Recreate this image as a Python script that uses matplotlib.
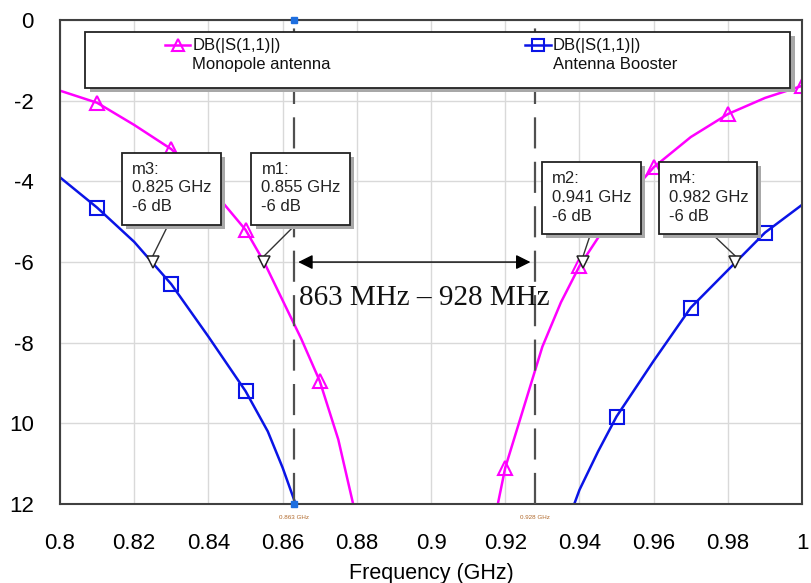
import matplotlib
matplotlib.use("Agg")
import matplotlib.pyplot as plt
from matplotlib.patches import Rectangle

plt.rcParams['font.family'] = ['Liberation Sans', 'DejaVu Sans']

# Monopole antenna, |S11| in dB (two visible branches)
mono_left_f = [0.800, 0.810, 0.820, 0.830, 0.840, 0.850, 0.855, 0.860, 0.865, 0.870, 0.875, 0.879]
mono_left_db = [-1.75, -2.05, -2.6, -3.2, -4.1, -5.2, -6.0, -6.95, -7.9, -8.95, -10.4, -12.0]
mono_right_f = [0.918, 0.920, 0.925, 0.930, 0.935, 0.940, 0.950, 0.960, 0.970, 0.980, 0.990, 1.000]
mono_right_db = [-12.0, -11.1, -9.6, -8.1, -7.0, -6.1, -4.7, -3.65, -2.9, -2.33, -1.93, -1.63]

# Antenna Booster
boost_left_f = [0.800, 0.810, 0.820, 0.830, 0.840, 0.850, 0.856, 0.860, 0.8635]
boost_left_db = [-3.9, -4.65, -5.5, -6.55, -7.85, -9.2, -10.2, -11.1, -12.0]
boost_right_f = [0.9386, 0.940, 0.945, 0.950, 0.960, 0.970, 0.980, 0.990, 1.000]
boost_right_db = [-12.0, -11.65, -10.7, -9.83, -8.45, -7.13, -6.2, -5.27, -4.58]

# markers m1..m4 at -6 dB
mk_names = ['m3', 'm1', 'm2', 'm4']
mk_freq = [0.825, 0.855, 0.941, 0.982]
mk_level = -6

band_lo, band_hi = 0.863, 0.928

x_ticks = [0.8, 0.82, 0.84, 0.86, 0.88, 0.9, 0.92, 0.94, 0.96, 0.98, 1.0]
x_labels = ['0.8', '0.82', '0.84', '0.86', '0.88', '0.9', '0.92', '0.94', '0.96', '0.98', '1']
y_ticks = [0, -2, -4, -6, -8, -10, -12]
y_labels = ['0', '-2', '-4', '-6', '-8', '10', '12']

pink = '#ff00ff'
blue = '#0a14e6'

fig = plt.figure(figsize=(8.11, 5.83), dpi=100)
ax = fig.add_axes([0.074, 0.1355, 0.915, 0.830])

ax.set_xlim(0.8, 1.0)
ax.set_ylim(-12, 0)
ax.set_xticks(x_ticks)
ax.set_xticklabels(x_labels)
ax.set_yticks(y_ticks)
ax.set_yticklabels(y_labels)
ax.tick_params(axis='x', length=0, pad=21, labelsize=16)
ax.tick_params(axis='y', length=0, pad=19, labelsize=16)
ax.set_xlabel("Frequency (GHz)", fontsize=15.5, labelpad=6)
ax.grid(True, color='#d9d9d9', lw=1)
ax.set_axisbelow(True)
for s in ax.spines.values():
    s.set_color('#404040')
    s.set_linewidth(1.5)

mk_style = dict(mfc='none', ms=10, mew=1.5, lw=1.8)
ax.plot(mono_left_f, mono_left_db, color=pink, marker='^', markevery=[1, 3, 5, 9], **mk_style)
ax.plot(mono_right_f, mono_right_db, color=pink, marker='^', markevery=[1, 5, 7, 9, 11], **mk_style)
ax.plot(boost_left_f, boost_left_db, color=blue, marker='s', markevery=[1, 3, 5], **mk_style)
ax.plot(boost_right_f, boost_right_db, color=blue, marker='s', markevery=[3, 5, 7], **mk_style)

# band edges
for f in (band_lo, band_hi):
    ax.axvline(f, color='#505050', lw=1.6, ls=(0, (14, 6)), zorder=3)
    ax.text(f, -0.022, f"{f:.3f} GHz", transform=ax.get_xaxis_transform(),
            ha='center', va='top', fontsize=4.5, color='#b0682a')
ax.plot([band_lo], [0], 's', color='#1e6fe0', ms=5, clip_on=False, zorder=6)
ax.plot([band_lo], [-12], 's', color='#1e6fe0', ms=5, clip_on=False, zorder=6)

ax.annotate('', xy=(band_lo + 0.0012, mk_level), xytext=(band_hi - 0.0012, mk_level),
            arrowprops=dict(arrowstyle='<|-|>', color='black', lw=1, mutation_scale=22,
                            shrinkA=0, shrinkB=0), zorder=4)
ax.text(band_lo + 0.0013, -6.88, "863 MHz \u2013 928 MHz", family='Liberation Serif',
        fontsize=21, ha='left', va='center', color='#111111', zorder=4)

# marker readouts
box_pos = [(0.8168, -3.29), (0.8516, -3.29), (0.9300, -3.52), (0.9614, -3.52)]
box_w, box_h = 0.0265, 1.78
leader_dx = [0.0124, 0.0119, 0.0130, 0.0143]
sx, sy = 0.0011, 0.1
for name, f, (bx, by), ldx in zip(mk_names, mk_freq, box_pos, leader_dx):
    ax.add_patch(Rectangle((bx + sx, by - box_h - sy), box_w, box_h, fc='#a8a8a8', ec='none', zorder=7))
    ax.add_patch(Rectangle((bx, by - box_h), box_w, box_h, fc='white', ec='#222222', lw=1.3, zorder=8))
    ax.text(bx + 0.0027, by - 0.22, f"{name}:\n{f:.3f} GHz\n{mk_level} dB", fontsize=12,
            ha='left', va='top', linespacing=1.32, color='#222222', zorder=9)
    ax.annotate('', xy=(f, mk_level + 0.15), xytext=(bx + ldx, by - box_h),
                arrowprops=dict(arrowstyle='-', color='#333333', lw=1, shrinkA=0, shrinkB=0), zorder=6)
    ax.plot([f], [mk_level], 'v', mfc='white', mec='#222222', ms=9, mew=1.1, zorder=6)

# legend box
tr = ax.transAxes
ax.add_patch(Rectangle((0.040, 0.852), 0.950, 0.115, transform=tr, fc='#a8a8a8', ec='none', zorder=7))
ax.add_patch(Rectangle((0.034, 0.860), 0.950, 0.115, transform=tr, fc='white', ec='#222222', lw=1.3, zorder=8))
leg_entries = [(0.1415, pink, '^', "DB(|S(1,1)|)\nMonopole antenna"),
               (0.627, blue, 's', "DB(|S(1,1)|)\nAntenna Booster")]
for lx, col, m, lab in leg_entries:
    ax.plot([lx, lx + 0.034], [0.948, 0.948], color=col, lw=1.8, transform=tr, zorder=9, clip_on=False)
    ax.plot([lx + 0.017], [0.948], marker=m, color=col, mfc='none', ms=9, mew=1.5,
            transform=tr, zorder=9, clip_on=False)
    ax.text(lx + 0.037, 0.964, lab, transform=tr, fontsize=12, ha='left', va='top',
            linespacing=1.4, color='#111111', zorder=9)

fig.savefig("out.png", dpi=100)
